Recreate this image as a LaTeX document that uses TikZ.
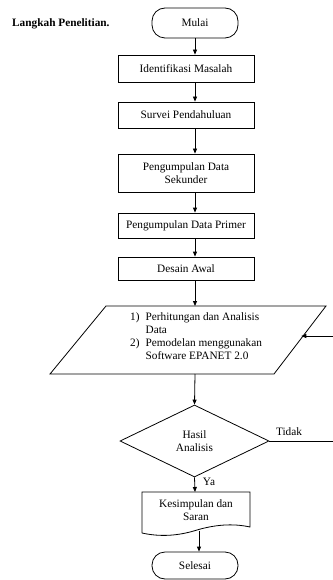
\documentclass[tikz,border=0pt]{standalone}
\usepackage{fontspec}
\setmainfont{Liberation Serif}
\usetikzlibrary{arrows.meta,shapes.geometric,calc}
\begin{document}
\begin{tikzpicture}[x=1pt,y=-1pt,
  every node/.style={font=\fontsize{11.3}{13}\selectfont},
  box/.style={draw,line width=0.8pt,minimum width=136pt,inner sep=0pt,align=center},
  term/.style={draw,line width=0.8pt,rounded corners=13pt,minimum width=86pt,inner sep=0pt},
  arr/.style={-{Triangle[length=5pt,width=4pt]},line width=0.8pt},
  ln/.style={line width=0.8pt}]
\useasboundingbox (0,0) rectangle (332,580);
% title
\node[anchor=west,inner sep=0pt,font=\fontsize{11.3}{13}\selectfont\bfseries] (title) at (12,24) {Langkah Penelitian.};
% nodes
\node[term,minimum height=30pt] (mulai) at (195,23) {Mulai};
\node[box,minimum height=27pt] (idm) at (186,68.5) {Identifikasi Masalah};
\node[box,minimum height=26pt] (sv) at (186,115) {Survei Pendahuluan};
\node[box,minimum height=38pt] (sek) at (186,173) {Pengumpulan Data\\Sekunder};
\node[box,minimum height=25pt] (pri) at (186,225.5) {Pengumpulan Data Primer};
\node[box,minimum height=23pt] (da) at (186,268.5) {Desain Awal};
% parallelogram
\coordinate (p1) at (106,306);
\coordinate (p2) at (326,306);
\coordinate (p3) at (274,374);
\coordinate (p4) at (50,374);
\draw[ln] (p1) -- (p2) -- (p3) -- (p4) -- cycle;
\coordinate (iotop) at (195,306);
\coordinate (iobot) at (195,374);
\coordinate (ioright) at (301.3,336);
\node[anchor=north west,inner sep=0pt] (io) at (130,311) {\begin{tabular}{@{}l@{\hspace{6pt}}l@{}}1) & Perhitungan dan Analisis\\ & Data\\ 2) & Pemodelan menggunakan\\ & Software EPANET 2.0\end{tabular}};
% decision
\node[draw,diamond,line width=0.8pt,minimum width=149pt,minimum height=72pt,aspect=2.07,inner sep=0pt,align=center] (dia) at (194.5,441) {Hasil\\Analisis};
\node[inner sep=0pt] (tidak) at (289,432) {Tidak};
\node[inner sep=0pt] (ya) at (209,482) {Ya};
% document
\draw[ln] (142,533) -- (142,492) -- (250,492) -- (250,527)
  .. controls (232,523) and (214,525) .. (197,530)
  .. controls (178,536) and (160,537) .. (142,533);
\coordinate (doctop) at (195,492);
\coordinate (docb) at (199,531);
\node[inner sep=0pt,align=center] (doc) at (196,510) {Kesimpulan dan\\Saran};
\node[term,minimum height=27pt] (sel) at (195,565.5) {Selesai};
% connectors
\draw[arr] (mulai) -- (mulai |- idm.north);
\draw[arr] (mulai |- idm.south) -- (mulai |- sv.north);
\draw[arr] (mulai |- sv.south) -- (mulai |- sek.north);
\draw[arr] (mulai |- sek.south) -- (mulai |- pri.north);
\draw[arr] (mulai |- pri.south) -- (mulai |- da.north);
\draw[arr] (mulai |- da.south) -- (iotop);
\draw[arr] (iobot) -- (dia.north);
\draw[arr] (dia.south) -- (doctop);
\draw[arr] (docb) -- (docb |- sel.north);
\draw[arr] (dia.east) -- (336,441) |- (ioright);
\end{tikzpicture}
\end{document}
